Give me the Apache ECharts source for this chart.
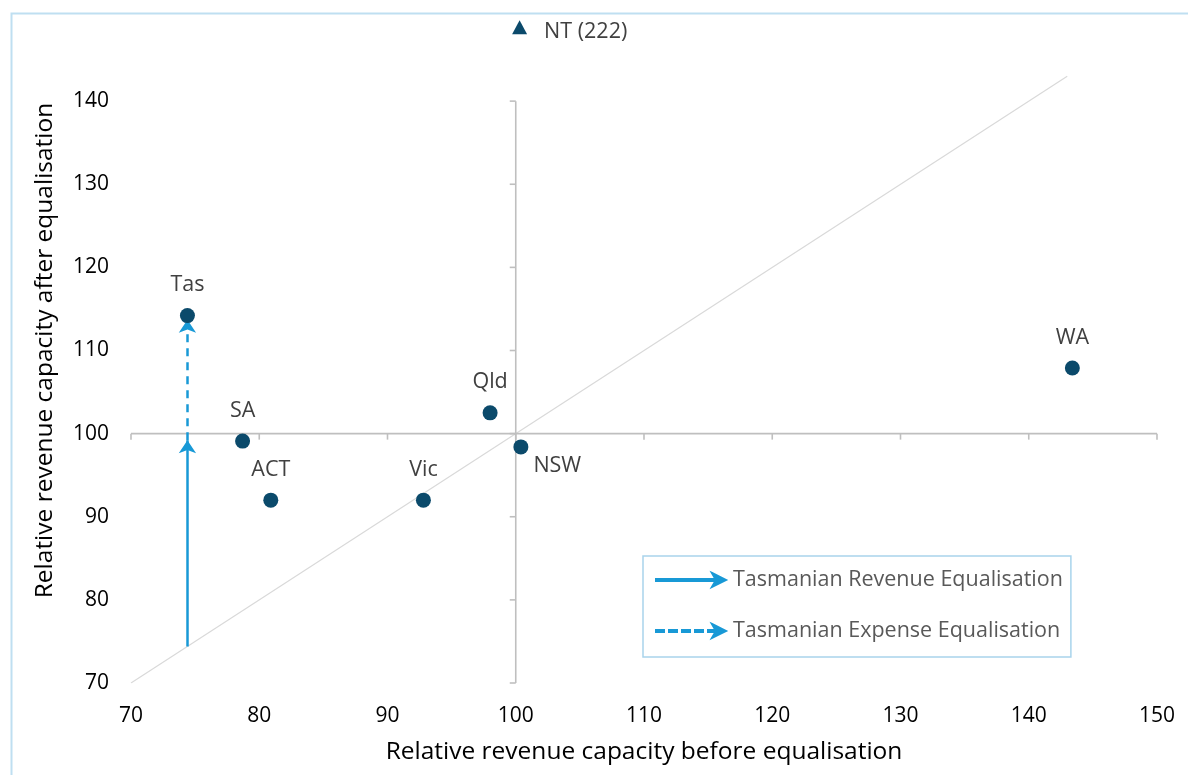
<!DOCTYPE html>
<html>
<head>
<meta charset="utf-8">
<script src="https://cdn.jsdelivr.net/npm/echarts@6/dist/echarts.min.js"></script>
<style>
html,body{margin:0;padding:0;background:#fff;}
#chart{width:1188px;height:775px;}
</style>
</head>
<body>
<div id="chart"></div>
<script>
// ---- data ----
const states = ['NSW', 'Vic', 'Qld', 'WA', 'SA', 'Tas', 'ACT'];
const beforeEq = [100.4, 92.8, 98.0, 143.4, 78.7, 74.4, 80.9];
const afterEq = [98.4, 92.0, 102.5, 107.9, 99.1, 114.2, 92.0];
const ntName = 'NT';
const ntBefore = 100.3;
const ntShownAt = 148.9;   // off-scale marker position
const ntActual = 222;
const diagonal = [[70, 70], [143, 143]];
const revenueArrow = [[74.4, 74.4], [74.4, 99.2]];
const expenseArrow = [[74.4, 99.2], [74.4, 113.7]];
const xTicks = [70, 80, 90, 100, 110, 120, 130, 140, 150];
const yTicks = [70, 80, 90, 100, 110, 120, 130, 140];
const xTitle = 'Relative revenue capacity before equalisation';
const yTitle = 'Relative revenue capacity after equalisation';
const legendNames = ['Tasmanian Revenue Equalisation', 'Tasmanian Expense Equalisation'];
const crossX = 100, crossY = 100;

// ---- chart ----
const chart = echarts.init(document.getElementById('chart'), null, {renderer: 'canvas'});
const dotColor = '#0b4a6b';
const arrowColor = '#1899d6';
const axisGrey = '#bfbfbf';
const labelFont = 'Open Sans';
const tickFont = 'Open Sans';

const pointData = states.map((s, i) => ({name: s, value: [beforeEq[i], afterEq[i]]}));

const option = {
  animation: false,
  backgroundColor: '#ffffff',
  graphic: [{
    type: 'rect', left: 9, top: 11, silent: true,
    shape: {width: 1220, height: 800},
    style: {fill: 'none', stroke: '#bfdff1', lineWidth: 2}
  }],
  grid: {left: 131, right: 31, top: 18, bottom: 92},
  legend: {
    orient: 'vertical',
    left: 643, top: 556,
    padding: [13, 8, 15, 12],
    itemGap: 29,
    itemWidth: 70, itemHeight: 14,
    borderColor: '#a9d4ec', borderWidth: 1.5,
    selectedMode: false,
    textStyle: {fontFamily: labelFont, fontSize: 21.5, color: '#595959', lineHeight: 22, padding: [0, 0, 0, 2]},
    data: [
      {name: legendNames[0], icon: 'path://M0,6L62,6L62,8L0,8Z M56,0L70,7L56,14L60,7Z'},
      {name: legendNames[1], icon: 'path://M0,6h8v2h-8Z M13,6h8v2h-8Z M26,6h8v2h-8Z M39,6h8v2h-8Z M52,6h7v2h-7Z M56,0L70,7L56,14L60,7Z'}
    ]
  },
  xAxis: {
    type: 'value', min: 70, max: 150, interval: 10,
    axisLine: {show: false}, axisTick: {show: false}, splitLine: {show: false},
    axisLabel: {fontFamily: tickFont, fontSize: 21, color: '#000', margin: 23},
    name: xTitle, nameLocation: 'middle', nameGap: 57,
    nameTextStyle: {fontFamily: tickFont, fontSize: 24.5, color: '#000'}
  },
  yAxis: {
    type: 'value', min: 70, max: 150, interval: 10,
    axisLine: {show: false}, axisTick: {show: false}, splitLine: {show: false},
    axisLabel: {
      fontFamily: tickFont, fontSize: 21, color: '#000', margin: 22,
      formatter: v => (yTicks.indexOf(v) >= 0 ? String(v) : '')
    },
    name: yTitle, nameLocation: 'middle', nameGap: 73,
    nameTextStyle: {fontFamily: tickFont, fontSize: 24.5, color: '#000'}
  },
  series: [
    {
      type: 'line', name: 'diag', data: diagonal, symbol: 'none', silent: true,
      lineStyle: {color: '#d9d9d9', width: 1.2}, z: 1
    },
    {
      type: 'custom', name: 'axes', silent: true, z: 2,
      data: [[crossX, crossY]],
      renderItem: function (params, api) {
        const st = {stroke: axisGrey, lineWidth: 1.6};
        const ch = [];
        const a = api.coord([xTicks[0], crossY]);
        const b = api.coord([xTicks[xTicks.length - 1], crossY]);
        ch.push({type: 'line', shape: {x1: a[0], y1: a[1], x2: b[0], y2: b[1]}, style: st});
        xTicks.forEach(v => {
          const p = api.coord([v, crossY]);
          ch.push({type: 'line', shape: {x1: p[0], y1: p[1], x2: p[0], y2: p[1] + 6}, style: st});
        });
        const c = api.coord([crossX, yTicks[0]]);
        const d = api.coord([crossX, yTicks[yTicks.length - 1]]);
        ch.push({type: 'line', shape: {x1: c[0], y1: c[1], x2: d[0], y2: d[1]}, style: st});
        yTicks.forEach(v => {
          const p = api.coord([crossX, v]);
          ch.push({type: 'line', shape: {x1: p[0] - 6, y1: p[1], x2: p[0], y2: p[1]}, style: st});
        });
        return {type: 'group', children: ch};
      }
    },
    {
      type: 'lines', name: legendNames[0], coordinateSystem: 'cartesian2d', z: 3,
      symbol: ['none', 'arrow'], symbolSize: 13,
      lineStyle: {color: arrowColor, width: 2.5, type: 'solid', opacity: 1},
      itemStyle: {color: arrowColor},
      data: [{coords: revenueArrow}]
    },
    {
      type: 'lines', name: legendNames[1], coordinateSystem: 'cartesian2d', z: 3,
      symbol: ['none', 'arrow'], symbolSize: 13,
      lineStyle: {color: arrowColor, width: 2.5, type: [8, 6], opacity: 1},
      itemStyle: {color: arrowColor},
      data: [{coords: expenseArrow}]
    },
    {
      type: 'scatter', name: 'States', z: 4,
      symbol: 'circle', symbolSize: 15,
      itemStyle: {color: dotColor, opacity: 1},
      label: {
        show: true, position: 'top', distance: 12,
        formatter: p => p.name,
        fontFamily: labelFont, fontSize: 21.5, color: '#404040'
      },
      data: pointData.map(d => d.name === 'NSW' ? Object.assign({}, d, {
        label: {position: 'right', distance: 5, offset: [0, 19]}
      }) : d)
    },
    {
      type: 'scatter', name: 'NT', z: 4,
      symbol: 'triangle', symbolSize: [15, 14],
      itemStyle: {color: dotColor, opacity: 1},
      label: {
        show: true, position: 'right', distance: 17, offset: [0, 5],
        formatter: p => p.name + ' (' + ntActual + ')',
        fontFamily: labelFont, fontSize: 21.5, color: '#404040'
      },
      data: [{name: ntName, value: [ntBefore, ntShownAt]}]
    }
  ]
};
chart.setOption(option);
</script>
</body>
</html>
